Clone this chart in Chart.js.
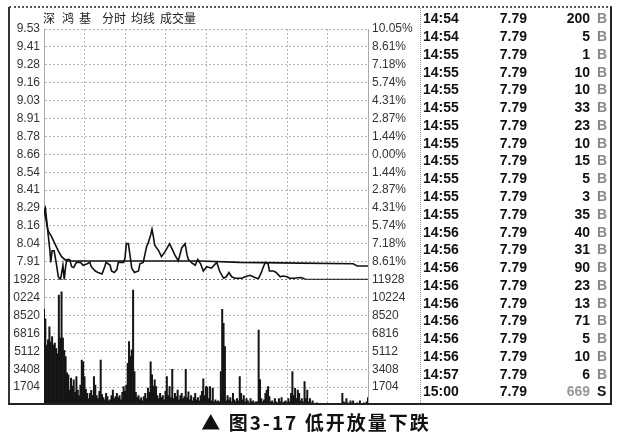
<!DOCTYPE html>
<html>
<head>
<meta charset="utf-8">
<script src="https://cdn.jsdelivr.net/npm/chart.js@4.4.1/dist/chart.umd.min.js"></script>
<style>
body { margin: 0; background: #fff; }
#wrap { position: relative; width: 620px; height: 442px; overflow: hidden; background: #fff; font-family: "Liberation Sans", Arial, sans-serif; }
#priceCanvas { position: absolute; left: 0; top: 0; }
.ttl { position: absolute; top: 10px; font-size: 12px; color: #222; font-family: "Noto Sans CJK SC", sans-serif; line-height: 16px; }
.ln { position: absolute; }
.cell { position: absolute; height: 16px; line-height: 16px; font-weight: bold; font-size: 14px; color: #111; white-space: nowrap; }
#caption { position: absolute; left: 0; width: 632px; top: 408px; text-align: center; font-family: "Noto Sans CJK SC", sans-serif; font-weight: bold; font-size: 19px; letter-spacing: 2px; color: #111; }
</style>
</head>
<body>
<div id="wrap">
  <canvas id="priceCanvas" width="420" height="442"></canvas>
  <div class="ln" style="left:9px;top:6px;width:603px;border-top:2px dotted #555;"></div>
  <div class="ln" style="left:8px;top:7px;height:397px;border-left:2px solid #333;"></div>
  <div class="ln" style="left:610px;top:7px;height:397px;border-left:2px solid #222;"></div>
  <div class="ln" style="left:8px;top:403px;width:604px;border-top:2px solid #222;"></div>
  <div class="ln" style="left:420px;top:8px;height:395px;border-left:1px dotted #999;"></div>
  <div id="caption">▲ 图3-17 低开放量下跌</div>
</div>
<script>
// 分时 price line (minute, price)
let priceMinutes = [0, 1, 2, 3, 4.4, 5, 6, 7.5, 9, 10.6, 12, 12.6, 14, 15, 16, 17, 19, 20.5, 22, 24, 27, 29, 32, 34, 35, 38, 40, 43, 45, 46, 49, 50, 52, 54, 55, 59, 60, 61, 62.5, 64, 65, 67, 70, 71, 73.5, 76, 77, 79, 80, 81, 82, 85, 87, 90, 93, 95, 97, 99.5, 102, 104.5, 106, 107, 109, 112, 114, 116, 118, 120.5, 124, 128, 130, 133, 135, 137, 139, 141.5, 146.5, 149, 152.5, 155, 157.5, 159, 161, 162.5, 164, 166, 167, 170, 172, 175, 177, 180, 182, 185, 190, 192, 194, 240];
let priceValues = [8.27, 8.29, 8.20, 8.11, 7.99, 7.91, 7.99, 7.99, 7.91, 7.81, 7.79, 7.81, 7.89, 7.79, 7.88, 7.93, 7.93, 7.88, 7.875, 7.91, 7.91, 7.89, 7.90, 7.91, 7.88, 7.85, 7.84, 7.83, 7.88, 7.91, 7.89, 7.85, 7.84, 7.86, 7.91, 7.91, 7.94, 8.04, 8.04, 7.94, 7.87, 7.84, 7.85, 7.90, 7.91, 8.02, 8.04, 8.10, 8.14, 8.09, 8.03, 7.99, 7.95, 7.99, 8.04, 8.00, 7.96, 7.92, 8.01, 8.04, 7.96, 7.93, 7.91, 7.89, 7.93, 7.90, 7.85, 7.88, 7.87, 7.91, 7.85, 7.80, 7.81, 7.84, 7.81, 7.80, 7.80, 7.81, 7.82, 7.81, 7.80, 7.80, 7.84, 7.88, 7.91, 7.90, 7.85, 7.85, 7.84, 7.81, 7.815, 7.81, 7.80, 7.80, 7.805, 7.80, 7.79, 7.79];

// 均线
let avgMinutes = [0, 3, 5.5, 8, 10.6, 13, 16, 18, 116, 145, 190, 229, 232, 240];
let avgValues = [8.28, 8.13, 8.09, 8.04, 7.99, 7.95, 7.925, 7.92, 7.92, 7.91, 7.905, 7.90, 7.885, 7.885];

// 成交量, one bar per minute
let volumes = [
  9140, 8200, 5700, 6200, 7450, 6000, 6500, 5700, 5900, 5400,
  4900, 10470, 6380, 10780, 6380, 5200, 4600, 3050, 2860, 1430,
  2570, 1800, 2400, 1200, 2700, 1430, 900, 1900, 4280, 4120,
  2700, 1500, 1100, 600, 1100, 1400, 900, 2700, 1900, 900,
  600, 1300, 4280, 1000, 700, 500, 1100, 800, 400, 500,
  900, 1430, 600, 800, 1100, 700, 900, 500, 1200, 1750,
  1300, 1900, 3970, 6030, 4600, 5240, 10940, 3170, 1200, 700,
  900, 500, 700, 400, 800, 1100, 600, 1600, 1200, 4120,
  2860, 1800, 2400, 1750, 900, 600, 1100, 700, 900, 500,
  1300, 2700, 900, 1750, 700, 3400, 600, 1100, 800, 1430,
  500, 900, 1100, 600, 800, 3400, 700, 1250, 500, 900,
  400, 700, 1100, 500, 700, 400, 900, 1300, 2500, 900,
  1750, 1700, 600, 1750, 400, 1600, 300, 500, 300, 400,
  300, 3170, 9100, 7780, 5560, 400, 900, 500, 700, 300,
  1100, 500, 300, 600, 400, 2700, 1100, 500, 900, 300,
  600, 400, 200, 600, 300, 400, 200, 300, 300, 7140,
  2430, 600, 300, 500, 1100, 1430, 1750, 800, 300, 400,
  200, 600, 300, 200, 600, 300, 700, 200, 300, 400,
  200, 600, 300, 1100, 3170, 900, 1590, 600, 1430, 1100,
  400, 600, 300, 2220, 600, 1430, 300, 600, 200, 400,
  150, 100, 200, 100, 50, 80, 60, 100, 40, 70,
  50, 90, 60, 40, 80, 50, 60, 40, 70, 50,
  60, 1100, 300, 200, 600, 200, 150, 400, 200, 400,
  150, 100, 200, 150, 400, 100, 150, 200, 100, 300, 700
];

// axis labels, top to bottom
let priceTop = 9.53;
let priceBottom = 7.79;
let priceTickLabels = ['9.53', '9.41', '9.28', '9.16', '9.03', '8.91', '8.78', '8.66', '8.54', '8.41', '8.29', '8.16', '8.04', '7.91', ''];
let pctTickLabels = ['10.05%', '8.61%', '7.18%', '5.74%', '4.31%', '2.87%', '1.44%', '0.00%', '1.44%', '2.87%', '4.31%', '5.74%', '7.18%', '8.61%', ''];
let volTop = 11928;
let volTickLabelsLeft = ['1928', '0224', '8520', '6816', '5112', '3408', '1704', ''];
let volTickLabelsRight = ['11928', '10224', '8520', '6816', '5112', '3408', '1704', ''];

// 成交明细
let tradeTimes = ['14:54', '14:54', '14:55', '14:55', '14:55', '14:55', '14:55', '14:55', '14:55', '14:55', '14:55', '14:55', '14:56', '14:56', '14:56', '14:56', '14:56', '14:56', '14:56', '14:56', '14:57', '15:00'];
let tradePrices = ['7.79', '7.79', '7.79', '7.79', '7.79', '7.79', '7.79', '7.79', '7.79', '7.79', '7.79', '7.79', '7.79', '7.79', '7.79', '7.79', '7.79', '7.79', '7.79', '7.79', '7.79', '7.79'];
let tradeVols = [200, 5, 1, 10, 10, 33, 23, 10, 15, 5, 3, 35, 40, 31, 90, 23, 13, 71, 5, 10, 6, 669];
let tradeSides = ['B', 'B', 'B', 'B', 'B', 'B', 'B', 'B', 'B', 'B', 'B', 'B', 'B', 'B', 'B', 'B', 'B', 'B', 'B', 'B', 'B', 'S'];

let wrap = document.getElementById('wrap');

// title
[['深', 43], ['鸿', 62], ['基', 79], ['分时', 102], ['均线', 131], ['成交量', 160]].forEach(t => {
    let s = document.createElement('div');
    s.className = 'ttl';
    s.style.left = t[1] + 'px';
    s.textContent = t[0];
    wrap.appendChild(s);
});

// right-hand trade list
function addCell(text, left, top, width, align, color) {
    let d = document.createElement('div');
    d.className = 'cell';
    d.style.left = left + 'px';
    d.style.top = top + 'px';
    if (width) { d.style.width = width + 'px'; }
    d.style.textAlign = align;
    if (color) { d.style.color = color; }
    d.textContent = text;
    wrap.appendChild(d);
}
tradeTimes.forEach((t, i) => {
    let top = 18.3 + i * 17.77 - 8;
    addCell(t, 423, top, 0, 'left');
    addCell(tradePrices[i], 470, top, 57, 'right');
    let sell = tradeSides[i] === 'S';
    addCell(String(tradeVols[i]), 530, top, 60, 'right', sell ? '#999' : '#111');
    addCell(tradeSides[i], 597, top, 0, 'left', sell ? '#111' : '#888');
});

function priceTickValues() {
    let step = (priceTop - priceBottom) / 14;
    let vals = [];
    for (let i = 0; i < priceTickLabels.length; i++) vals.push(priceTop - i * step);
    return vals;
}
function volTickValues() {
    let step = volTop / 7;
    let vals = [];
    for (let i = 0; i < volTickLabelsLeft.length; i++) vals.push(volTop - i * step);
    return vals;
}

let gridColor = '#b4b4b4';
let tickFont = {family: '"Liberation Sans", Arial, sans-serif', size: 12};

function yScale(pos, stack, weight, min, max, values, labels, drawGrid, width) {
    return {
        type: 'linear',
        position: pos,
        stack: stack,
        stackWeight: weight,
        min: min,
        max: max,
        afterBuildTicks: s => { s.ticks = values().map(v => ({value: v})); },
        afterFit: s => { s.width = width; },
        ticks: {
            autoSkip: false,
            padding: 4,
            color: '#333',
            font: tickFont,
            callback: (v, i) => labels[i]
        },
        grid: {
            drawOnChartArea: drawGrid,
            drawTicks: false,
            // the price / volume divider is darker
            color: c => (c.tick && c.tick.value === volTop) || (c.tick && c.tick.value === priceBottom) ? '#777' : gridColor,
            lineWidth: 1
        },
        border: {display: true, color: '#aaa', width: 1, dash: [2, 2]}
    };
}

let ctx = document.getElementById('priceCanvas').getContext('2d');
let chart = new Chart(ctx, {
    type: 'line',
    data: {
        datasets: [
            {
                label: '分时',
                data: priceMinutes.map((m, i) => ({x: m, y: priceValues[i]})),
                yAxisID: 'yPrice',
                borderColor: '#111',
                borderWidth: 1.6,
                pointRadius: 0,
                tension: 0
            },
            {
                label: '均线',
                data: avgMinutes.map((m, i) => ({x: m, y: avgValues[i]})),
                yAxisID: 'yPrice',
                borderColor: '#111',
                borderWidth: 1.6,
                pointRadius: 0,
                tension: 0
            },
            {
                type: 'bar',
                label: '成交量',
                data: volumes.map((v, i) => ({x: i, y: v})),
                yAxisID: 'yVol',
                backgroundColor: '#151515',
                barPercentage: 1,
                categoryPercentage: 1
            }
        ]
    },
    options: {
        responsive: false,
        animation: false,
        layout: {padding: {left: 10, right: 7, top: 29, bottom: 37}},
        plugins: {legend: {display: false}, tooltip: {enabled: false}, title: {display: false}},
        scales: {
            x: {
                type: 'linear',
                min: 0,
                max: 240,
                offset: false,
                ticks: {display: false, stepSize: 30},
                grid: {offset: false, drawTicks: false, color: gridColor},
                border: {display: false, dash: [2, 2]}
            },
            yVol: yScale('left', 'L', 1, 0, volTop, volTickValues, volTickLabelsLeft, true, 34),
            yPrice: yScale('left', 'L', 2, priceBottom, priceTop, priceTickValues, priceTickLabels, true, 34),
            yPct: yScale('right', 'R', 2, priceBottom, priceTop, priceTickValues, pctTickLabels, false, 45),
            yVolR: yScale('right', 'R', 1, 0, volTop, volTickValues, volTickLabelsRight, false, 45)
        }
    }
});
</script>
</body>
</html>
